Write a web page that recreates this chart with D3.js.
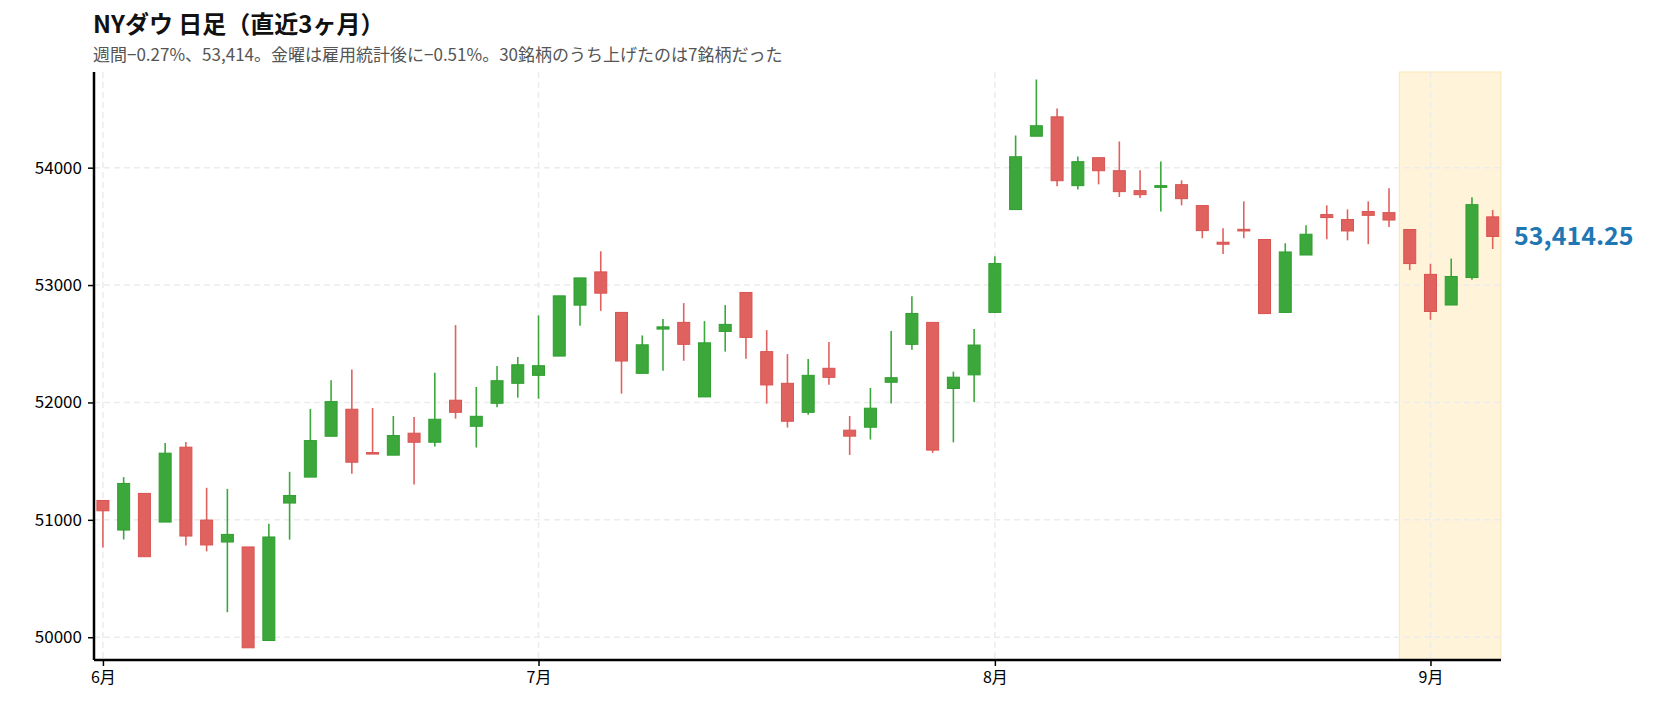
<!DOCTYPE html>
<html>
<head>
<meta charset="utf-8">
<script src="https://cdn.jsdelivr.net/npm/d3@7"></script>
<style>
  body { margin: 0; background: #fff; }
  svg text { font-family: "Noto Sans CJK JP", "Noto Sans", sans-serif; }
</style>
</head>
<body>
<svg id="chart" width="1660" height="703"></svg>
<script>
// daily OHLC, trading days 2026-06-01 .. 2026-09-04
const opens = [51165,50913,51225,50981,51619,50998,50811,50769,49972,51143,51364,51712,51942,51573,51551,51738,51661,52019,51797,51993,
  52163,52231,52395,52829,53112,52767,52248,52625,52682,52047,52605,52937,52433,52163,51916,52291,51764,51789,52172,52495,
  52682,52119,52235,52767,53643,54268,54433,53847,54085,53974,53804,53832,53855,53677,53365,53475,53388,52767,53256,53600,
  53558,53626,53617,53473,53091,52830,53064,53581];
const closes = [51077,51310,50686,51568,50862,50786,50876,49910,50854,51207,51675,52007,51491,51565,51718,51661,51857,51916,51882,52185,
  52321,52313,52908,53061,52931,52353,52491,52644,52495,52508,52665,52554,52149,51840,52231,52214,51713,51951,52211,52758,
  51594,52215,52489,53183,54093,54357,53889,54051,53974,53796,53770,53847,53736,53464,53348,53461,52757,53282,53433,53575,
  53461,53594,53554,53183,52775,53073,53685,53414.25];
const highs = [51170,51364,51225,51655,51664,51273,51264,50769,50967,51409,51945,52190,52280,51953,51885,51877,52253,52659,52132,52310,
  52387,52741,52908,53061,53288,52767,52571,52710,52846,52693,52829,52937,52616,52412,52370,52514,51885,52123,52608,52905,
  52682,52263,52625,53245,54274,54751,54504,54096,54085,54223,53977,54053,53892,53677,53484,53713,53388,53356,53509,53679,
  53645,53713,53824,53473,53181,53226,53747,53640];
const lows = [50765,50833,50686,50981,50782,50731,50213,49910,49972,50831,51364,51712,51392,51565,51551,51301,51624,51862,51616,51959,
  52041,52032,52395,52653,52780,52075,52248,52270,52355,52047,52433,52372,51990,51786,51896,52151,51553,51684,51990,52449,
  51570,51660,52004,52767,53643,54268,53841,53815,53858,53750,53742,53626,53679,53399,53265,53399,52757,52767,53256,53390,
  53381,53348,53495,53127,52704,52830,53046,53307];
const monthTickIdx = [0, 21, 43, 64];
const monthTickLabels = ["6月", "7月", "8月", "9月"];
const yTicks = [50000, 51000, 52000, 53000, 54000];
const weekStartIdx = 63; // week of 8/31 - 9/4

const svg = d3.select("#chart");
const plotL = 94, plotR = 1501, plotT = 72, plotB = 660;

const x = d3.scaleLinear().domain([-0.43, 67.4]).range([plotL, plotR]);
const y = d3.scaleLinear().domain([49806, 54815]).range([plotB, plotT]);

// highlight current week
svg.append("rect")
  .attr("x", x(weekStartIdx - 0.5)).attr("y", plotT)
  .attr("width", x(67.4) - x(weekStartIdx - 0.5)).attr("height", plotB - plotT)
  .attr("fill", "#fff4da").attr("stroke", "#fbe7b3").attr("stroke-width", 1);

// grid
svg.append("g").selectAll("line").data(yTicks).join("line")
  .attr("x1", plotL).attr("x2", plotR).attr("y1", d => y(d)).attr("y2", d => y(d))
  .attr("stroke", "#ececec").attr("stroke-width", 1.5).attr("stroke-dasharray", "6,4");
svg.append("g").selectAll("line").data(monthTickIdx).join("line")
  .attr("x1", d => x(d)).attr("x2", d => x(d)).attr("y1", plotT).attr("y2", plotB)
  .attr("stroke", "#ececec").attr("stroke-width", 1.5).attr("stroke-dasharray", "6,4");

// candles
const idx = d3.range(opens.length);
const up = i => closes[i] >= opens[i];
const fillC = i => up(i) ? "#3ca83c" : "#e0625f";
const strokeC = i => up(i) ? "#2f9e2f" : "#d85350";
const bodyW = 12;

const g = svg.append("g");
g.selectAll("line.wick").data(idx).join("line").attr("class", "wick")
  .attr("x1", i => x(i)).attr("x2", i => x(i))
  .attr("y1", i => y(highs[i])).attr("y2", i => y(lows[i]))
  .attr("stroke", fillC).attr("stroke-width", 1.6);
g.selectAll("rect.body").data(idx).join("rect").attr("class", "body")
  .attr("x", i => x(i) - bodyW / 2)
  .attr("y", i => y(Math.max(opens[i], closes[i])))
  .attr("width", bodyW)
  .attr("height", i => Math.max(1.5, Math.abs(y(opens[i]) - y(closes[i]))))
  .attr("fill", fillC).attr("stroke", strokeC).attr("stroke-width", 1);

// axes
const yAxis = d3.axisLeft(y).tickValues(yTicks).tickFormat(d3.format("d")).tickSize(6).tickPadding(6);
const ya = svg.append("g").attr("transform", `translate(${plotL},0)`).call(yAxis);
ya.select(".domain").attr("stroke", "#000").attr("stroke-width", 2.5).attr("d", `M0,${plotT}V${plotB}`);
ya.selectAll(".tick line").attr("stroke", "#000").attr("stroke-width", 1.5);
ya.selectAll(".tick text").attr("font-size", 17).attr("fill", "#000");

const xAxis = d3.axisBottom(x).tickValues(monthTickIdx)
  .tickFormat((d, i) => monthTickLabels[i]).tickSize(6).tickPadding(6);
const xa = svg.append("g").attr("transform", `translate(0,${plotB})`).call(xAxis);
xa.select(".domain").attr("stroke", "#000").attr("stroke-width", 2.5).attr("d", `M${plotL},0H${plotR}`);
xa.selectAll(".tick line").attr("stroke", "#000").attr("stroke-width", 1.5);
xa.selectAll(".tick text").attr("font-size", 16).attr("fill", "#000");

// last close label
const last = closes.length - 1;
svg.append("text").attr("x", 1514).attr("y", y(closes[last])).attr("dy", "0.35em")
  .attr("font-size", 25).attr("font-weight", "bold").attr("fill", "#1f77b4")
  .text(d3.format(",.2f")(closes[last]));

// titles
svg.append("text").attr("x", 93).attr("y", 33).attr("font-size", 24).attr("font-weight", "bold")
  .attr("fill", "#111").text("NYダウ 日足（直近3ヶ月）");
svg.append("text").attr("x", 93).attr("y", 61).attr("font-size", 17).attr("fill", "#555")
  .text("週間−0.27%、53,414。金曜は雇用統計後に−0.51%。30銘柄のうち上げたのは7銘柄だった");
</script>
</body>
</html>
